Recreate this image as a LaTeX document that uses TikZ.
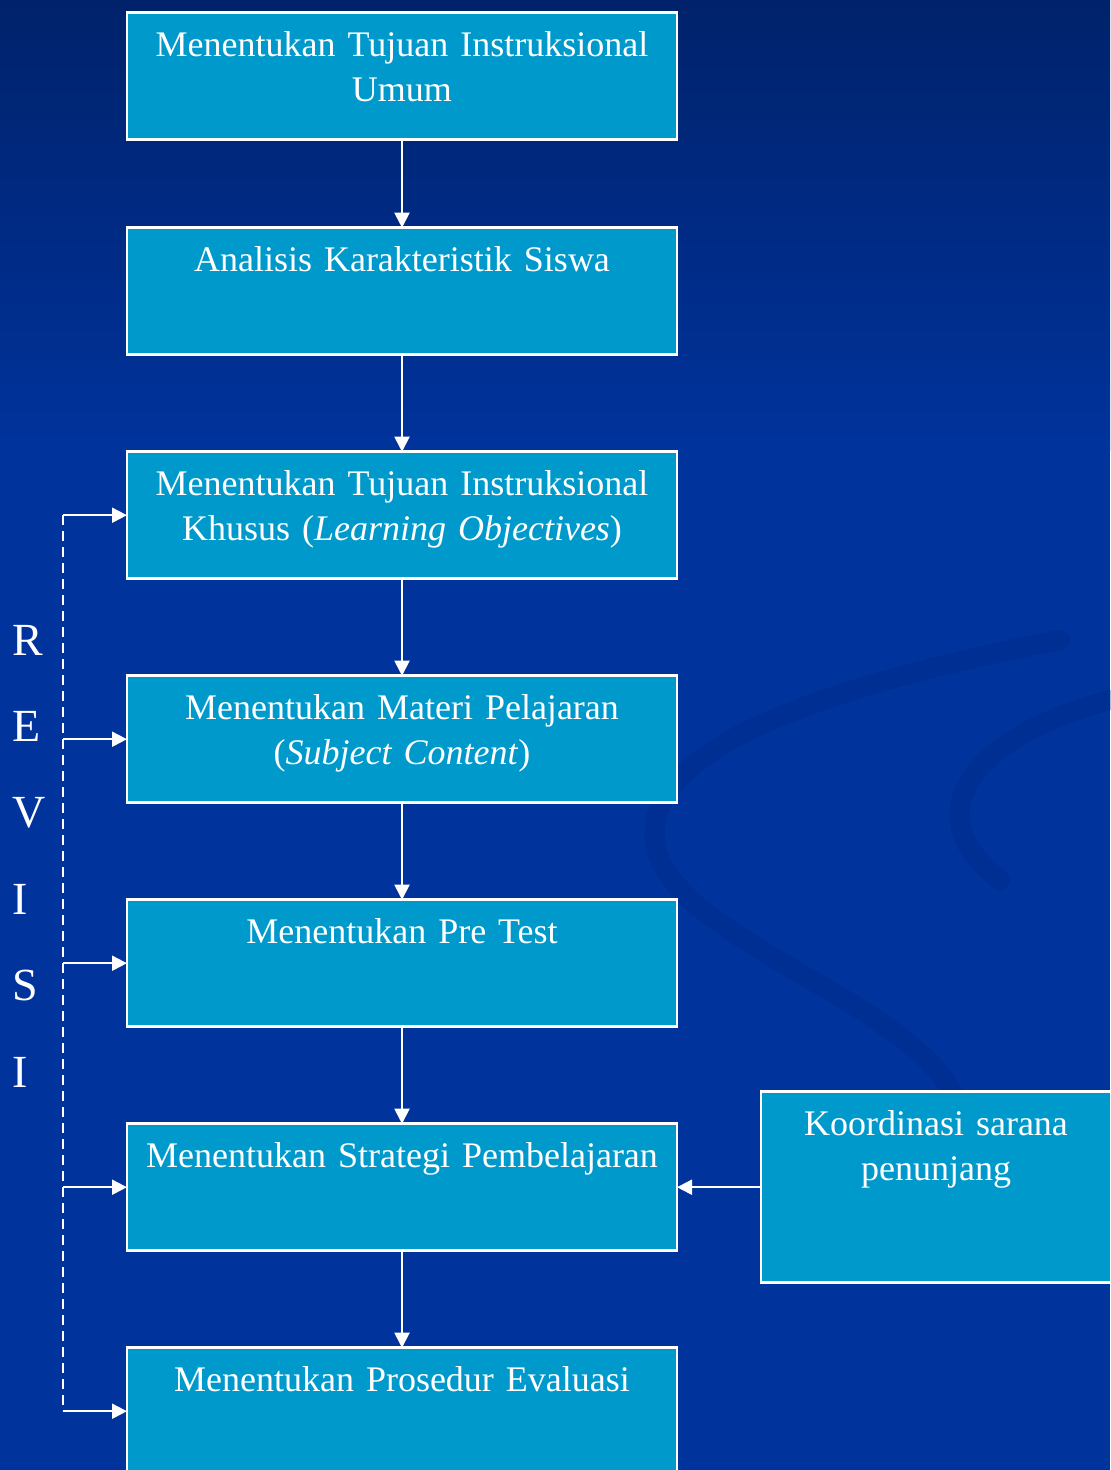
\documentclass[tikz,border=0pt]{standalone}
\usepackage{fontspec}
\setmainfont{Liberation Serif}
\usetikzlibrary{matrix, arrows.meta, positioning}
\definecolor{bgtop}{RGB}{0,34,107}
\definecolor{bgmain}{RGB}{0,51,156}
\definecolor{swirl}{RGB}{0,40,130}
\definecolor{boxblue}{RGB}{0,153,204}
\tikzset{
  flowbox/.style={draw=white, line width=1.3pt, fill=boxblue, text=white, text width=270pt, align=center,
    inner xsep=2.5pt, inner ysep=0pt, outer sep=0pt, text height=22pt, text depth=41.5pt,
    font=\fontsize{18}{22.5}\selectfont},
  link/.style={white, line width=1pt, ->},
  revlink/.style={white, line width=1pt, dash pattern=on 5pt off 3pt},
  revletter/.style={text=white, inner sep=0pt, anchor=base west, font=\fontsize{23}{27}\selectfont}
}

\begin{document}
\begin{tikzpicture}[x=0.5pt, y=-0.5pt, >={Triangle[length=7.5pt,width=7.5pt]}]
\shade[top color=bgtop, bottom color=bgmain] (0,0) rectangle (1110,450);
\fill[bgmain] (0,449) rectangle (1110,1470);
\useasboundingbox (0,0) rectangle (1110,1470);
% faint swirls in the background
\draw[swirl, line width=10pt, opacity=.3, line cap=round] (1060,640) .. controls (800,690) and (620,760) .. (660,860) .. controls (700,950) and (930,1010) .. (960,1110);
\draw[swirl, line width=10pt, opacity=.3, line cap=round] (1110,700) .. controls (960,740) and (920,820) .. (1000,880);
\matrix (m) [row sep=47.2pt, inner sep=0pt, anchor=north] at (402,11) {
\node[flowbox] (b1) {Menentukan Tujuan Instruksional\\Umum}; \\[-4.5pt]
\node[flowbox] (b2) {Analisis Karakteristik Siswa}; \\
\node[flowbox] (b3) {Menentukan Tujuan Instruksional\\Khusus (\textit{Learning Objectives})}; \\
\node[flowbox] (b4) {Menentukan Materi Pelajaran\\(\textit{Subject Content})}; \\
\node[flowbox] (b5) {Menentukan Pre Test}; \\
\node[flowbox] (b6) {Menentukan Strategi Pembelajaran}; \\
\node[flowbox] (b7) {Menentukan Prosedur Evaluasi}; \\
};
\node[flowbox, text width=170pt, text depth=73.5pt, right=42pt of b6] (k) {Koordinasi sarana\\penunjang};
\foreach \ch [count=\i] in {R,E,V,I,S,I}
  \node[revletter] (rev\i) at (12,{655+86.4*(\i-1)}) {\ch};
\foreach \a/\b in {b1/b2, b2/b3, b3/b4, b4/b5, b5/b6, b6/b7}
  \draw[link] (\a) -- (\b);
\draw[link] (k) -- (b6);
\foreach \n in {3,...,7}
  \coordinate (d\n) at ([xshift=-32pt]b\n.west);
\draw[revlink] (d3) -- (d7);
\foreach \n in {3,...,7}
  \draw[link] (d\n) -- (b\n);
\end{tikzpicture}
\end{document}
